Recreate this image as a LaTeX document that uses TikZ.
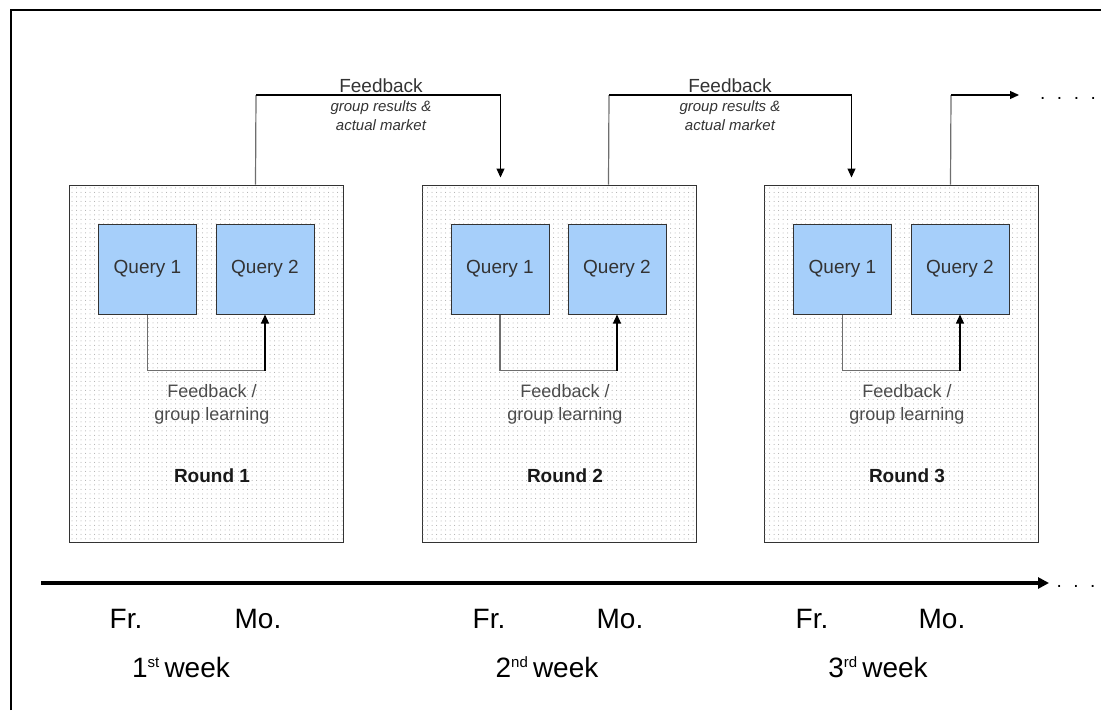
\documentclass[tikz,border=0pt]{standalone}
\usepackage{fontspec}
\setmainfont{Liberation Sans}
\usetikzlibrary{arrows.meta,patterns.meta}
\definecolor{qblue}{RGB}{166,207,250}
\definecolor{edge}{RGB}{51,51,51}
\definecolor{txt}{RGB}{51,51,51}
\definecolor{lgray}{RGB}{110,110,110}
\tikzset{
  roundbox/.style={draw=edge, line width=1pt, fill=white, minimum width=274pt, minimum height=357pt, inner sep=0pt,
    postaction={pattern={Dots[distance=4.5pt,radius=0.5pt]}, pattern color=gray!70}},
  query/.style={draw=edge, line width=1pt, fill=qblue, minimum width=98pt, minimum height=90pt, inner sep=0pt,
    text=txt, font=\fontsize{19}{23}\selectfont},
  upline/.style={draw=lgray, line width=1.2pt},
  fbline/.style={draw=black, line width=1.2pt, -{Triangle[length=9pt,width=8pt]}},
  inline/.style={draw=lgray, line width=1.2pt},
  inarrow/.style={draw=black, line width=1.2pt, -{Triangle[length=9pt,width=8pt]}},
  fbtitle/.style={anchor=base, text=txt, font=\fontsize{19}{23}\selectfont},
  fbsub/.style={anchor=base, text=txt, font=\fontsize{15}{18}\itshape},
  intext/.style={anchor=base, text=black!70, font=\fontsize{18}{22}\selectfont},
  roundlbl/.style={anchor=base, text=black!90, font=\fontsize{19}{23}\bfseries},
  daylbl/.style={anchor=base, text=black, font=\fontsize{28}{32}\selectfont},
  timeline/.style={draw=black, line width=3.5pt, -{Triangle[length=11pt,width=11pt]}},
  frameline/.style={draw=black, line width=2pt},
  dotlbl/.style={anchor=base, text=black, font=\fontsize{19}{23}\selectfont}
}
\begin{document}
\begin{tikzpicture}[x=1pt,y=-1pt]
\useasboundingbox (0,0) rectangle (1101,710);
% frame
\coordinate (fA) at (10.5,710);
\coordinate (fB) at (10.5,9.5);
\coordinate (fC) at (1101,9.5);
\draw[frameline] (fA) -- (fB) -- (fC);

% round boxes
\node[roundbox] (r1) at (206,363.5) {};
\node[roundbox] (r2) at (559,363.5) {};
\node[roundbox] (r3) at (901,363.5) {};

% queries
\node[query] (q11) at (147.5,269) {Query 1};
\node[query] (q12) at (265,269) {Query 2};
\node[query] (q21) at (500,269) {Query 1};
\node[query] (q22) at (617,269) {Query 2};
\node[query] (q31) at (842.5,269) {Query 1};
\node[query] (q32) at (960,269) {Query 2};

% inner feedback connectors
\foreach \a/\b in {q11/q12,q21/q22,q31/q32}{
  \draw[inline] (\a.south) -- ++(0,56) -- ([yshift=-56pt]\b.south);
  \draw[inarrow] ([yshift=-56pt]\b.south) -- (\b.south);
}

% inner texts
\foreach \r/\n in {r1/1,r2/2,r3/3}{
  \node[intext] (t\r a) at ([xshift=6pt,yshift=-33.5pt]\r.center) {Feedback /};
  \node[intext] (t\r b) at ([xshift=6pt,yshift=-56.5pt]\r.center) {group learning};
  \node[roundlbl] (t\r c) at ([xshift=6pt,yshift=-118.5pt]\r.center) {Round \n};
}

% outer feedback connectors
\coordinate (c1) at (256,95);
\coordinate (c2) at (609,95);
\coordinate (c3) at (951,95);
\draw[upline] ([xshift=187pt]r1.north west) -- (c1);
\draw[fbline] (c1) -| ([xshift=79pt,yshift=7pt]r2.north west);
\draw[upline] ([xshift=187pt]r2.north west) -- (c2);
\draw[fbline] (c2) -| ([xshift=88pt,yshift=7pt]r3.north west);
\draw[upline] ([xshift=187pt]r3.north west) -- (c3);
\coordinate (c3e) at (1019,95);
\draw[fbline] (c3) -- (c3e);
\node[dotlbl] (dots1) at (1068,99) {.\hspace{11.5pt}.\hspace{11.5pt}.\hspace{11.5pt}.};

\node[fbtitle] (f1) at (381,92) {Feedback};
\node[fbsub] (f1a) at (381,111) {group results \&};
\node[fbsub] (f1b) at (381,130) {actual market};
\node[fbtitle] (f2) at (730,92) {Feedback};
\node[fbsub] (f2a) at (730,111) {group results \&};
\node[fbsub] (f2b) at (730,130) {actual market};

% timeline
\coordinate (tl0) at (41,583);
\coordinate (tl1) at (1049,583);
\draw[timeline] (tl0) -- (tl1);
\node[dotlbl] (dots2) at (1076,587) {.\hspace{11.5pt}.\hspace{11.5pt}.};

\node[daylbl] (d1) at (126,628) {Fr.};
\node[daylbl] (d2) at (258,628) {Mo.};
\node[daylbl] (d3) at (489,628) {Fr.};
\node[daylbl] (d4) at (620,628) {Mo.};
\node[daylbl] (d5) at (812,628) {Fr.};
\node[daylbl] (d6) at (942,628) {Mo.};
\node[daylbl] (w1) at (181,677) {1\textsuperscript{\fontsize{15}{15}\selectfont st}\,week};
\node[daylbl] (w2) at (547,677) {2\textsuperscript{\fontsize{15}{15}\selectfont nd}\,week};
\node[daylbl] (w3) at (878,677) {3\textsuperscript{\fontsize{15}{15}\selectfont rd}\,week};
\end{tikzpicture}
\end{document}
